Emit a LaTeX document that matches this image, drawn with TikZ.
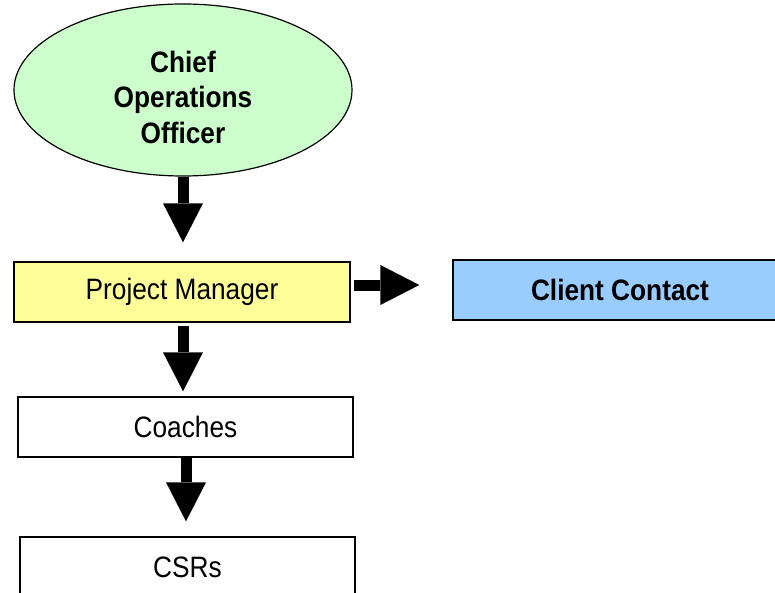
\documentclass[tikz,border=0pt]{standalone}
\usepackage{fontspec}
\setmainfont{Liberation Sans}[FakeStretch=0.89]
\usetikzlibrary{shapes.geometric,arrows.meta}
\definecolor{ceogreen}{HTML}{CCFFCC}
\definecolor{pmyellow}{HTML}{FFFF99}
\definecolor{clientblue}{HTML}{99CCFF}
\begin{document}
\begin{tikzpicture}[x=1pt,y=-1pt,
  orgbox/.style={draw=black, line width=1.3pt, rectangle, minimum height=60pt,
    inner sep=0pt, font=\fontsize{29.5}{35.5}\selectfont},
  bigarrow/.style={line width=11pt,
    -{Triangle[length=39pt,width=40pt,line width=0pt]}}
]
\useasboundingbox (0,0) rectangle (775,593);
\clip (0,0) rectangle (775,593);

% officer at the top
\node[ellipse, draw=black, line width=1.2pt, fill=ceogreen,
      minimum width=338pt, minimum height=172pt, inner sep=0pt,
      label={[font=\bfseries\fontsize{29.5}{35.5}\selectfont, align=center,
              yshift=-7pt]center:Chief\\Operations\\Officer}]
      (ceo) at (183,90) {};

% reporting chain
\node[orgbox, fill=pmyellow, minimum width=336pt] (pm) at (182,292) {Project Manager};
\node[orgbox, fill=clientblue, minimum width=334pt, font=\bfseries\fontsize{29.5}{35.5}\selectfont]
      (client) at (620,290) {Client Contact};
\node[orgbox, fill=white, minimum width=335pt] (coaches) at (185.5,427) {Coaches};
\node[orgbox, fill=white, minimum width=335pt] (csrs) at (187.5,567) {CSRs};

% connectors
\draw[bigarrow, shorten >=19pt] (ceo.south) -- (ceo.south |- pm.north);
\draw[bigarrow, shorten <=3pt, shorten >=5pt] ([xshift=1pt]pm.south) -- ([xshift=1pt]pm.south |- coaches.north);
\draw[bigarrow, shorten >=15pt] ([xshift=0.5pt]coaches.south) -- ([xshift=0.5pt]coaches.south |- csrs.north);
\draw[bigarrow, shorten <=3pt, shorten >=33pt] ([yshift=7pt]pm.east) -- ([yshift=7pt]pm.east -| client.west);
\end{tikzpicture}
\end{document}
